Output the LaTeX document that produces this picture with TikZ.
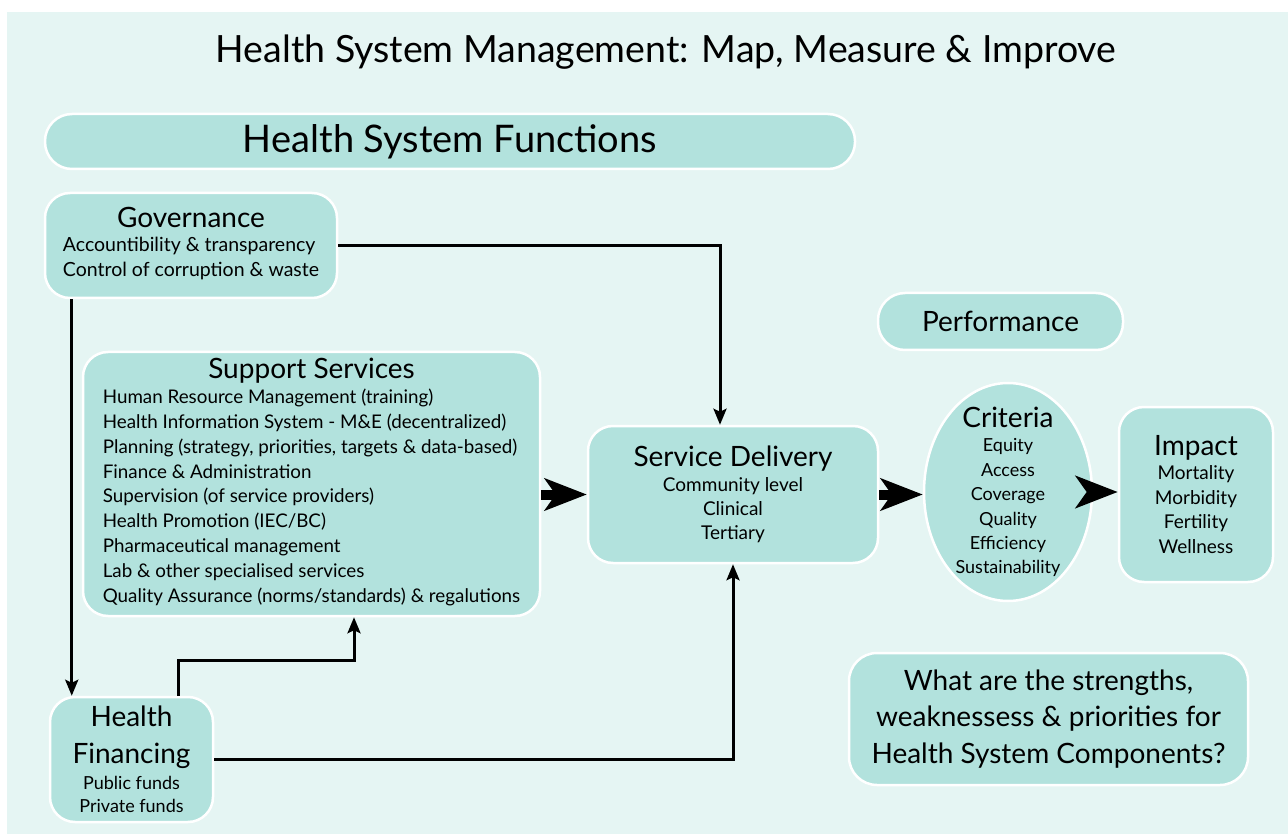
\documentclass[tikz,border=0pt]{standalone}
\usepackage{fontspec}
\setmainfont{Lato}
\usepackage{xcolor}
\usetikzlibrary{shapes.geometric,arrows.meta,positioning}
\definecolor{bgteal}{RGB}{229,245,243}
\definecolor{boxteal}{RGB}{178,226,221}
\newcommand\boxhead{\fontsize{28}{30}\selectfont}
\tikzset{blk/.style={draw=white,line width=2.5pt,fill=boxteal,rounded corners=25pt,align=center,inner sep=0pt,font=\fontsize{19.5}{24.5}\selectfont},
  pill/.style={blk,rounded corners=27pt},
  oval/.style={ellipse,draw=white,line width=2.5pt,fill=boxteal,inner sep=0pt},
  conn/.style={line width=3pt,-{Stealth[length=16pt,width=13pt,inset=3pt]}},
  fat/.style={line width=10pt,-{Stealth[length=42pt,width=32pt,inset=11pt]}}}

\begin{document}
\begin{tikzpicture}[x=1pt,y=-1pt]
    \useasboundingbox (0,0) rectangle (1288,834);
    \fill[bgteal] (7,12) rectangle (1288,834);

    \node[anchor=base,font=\fontsize{37.5}{42}\selectfont] (ttl) at (666,63) {Health System Management: Map, Measure \& Improve};
    \node[pill,minimum width=810pt,minimum height=55pt,font=\fontsize{38}{40}\selectfont] (hsf) at (450,141.5) {Health System Functions};

    % functions
    \node[blk,minimum width=292pt,minimum height=105pt] (gov) at (191,245.5) {\begin{tabular}{@{}l@{}}\multicolumn{1}{@{}c@{}}{\boxhead Governance}\\ Accountibility \& transparency\\ Control of corruption \& waste\end{tabular}};
    \node[blk,minimum width=457pt,minimum height=264pt,font=\fontsize{18.8}{24.8}\selectfont] (sup) at (311.5,484) {\begin{tabular}{@{}l@{}}\multicolumn{1}{@{}c@{}}{\boxhead Support Services}\\
        Human Resource Management (training)\\
        Health Information System - M\&E (decentralized)\\
        Planning (strategy, priorities, targets \& data-based)\\
        Finance \& Administration\\
        Supervision (of service providers)\\
        Health Promotion (IEC/BC)\\
        Pharmaceutical management\\
        Lab \& other specialised services\\
        Quality Assurance (norms/standards) \& regalutions\end{tabular}};
    \node[blk,minimum width=163pt,minimum height=125pt,font=\fontsize{18}{23}\selectfont] (fin) at (131.5,759.5) {{\boxhead Health}\\[14pt]{\boxhead Financing}\\[2.5pt]Public funds\\Private funds};
    \node[blk,minimum width=290pt,minimum height=137pt,font=\fontsize{19}{24}\selectfont] (sd) at (733,494.5) {{\boxhead Service Delivery}\\[1.5pt]Community level\\Clinical\\Tertiary};

    % performance
    \node[pill,minimum width=245pt,minimum height=57pt,font=\boxhead] (perf) at (1000.5,321.5) {Performance};
    \node[oval,minimum width=168pt,minimum height=218pt] (crit) at (1008,492) {};
    \node[align=center,font=\fontsize{18}{24.4}\selectfont] (critx) at (crit) {{\boxhead Criteria}\\Equity\\Access\\Coverage\\Quality\\Efficiency\\Sustainability};
    \node[blk,minimum width=154pt,minimum height=175pt,font=\fontsize{19}{24.5}\selectfont] (imp) at (1196,494.5) {{\boxhead Impact}\\Mortality\\Morbidity\\Fertility\\Wellness};
    \node[blk,minimum width=399pt,minimum height=132pt,rounded corners=28pt,font=\fontsize{28}{36.5}\selectfont] (ask) at (1048.5,719) {What are the strengths,\\weaknessess \& priorities for\\Health System Components?};

    \draw[conn] ([xshift=28pt]gov.south west) -- ([xshift=23pt]fin.north west);
    \draw[conn] (gov.east) -| ([xshift=-13pt]sd.north);
    \draw[conn] ([xshift=46.5pt]fin.north) -- ++(0,-35) -| ([xshift=42.5pt]sup.south);
    \draw[conn] (fin.east) -| (sd.south);

    \draw[fat] (sup.east |- sd.west) -- (sd.west);
    \draw[fat] (sd.east) -- (sd.east -| crit.west);
    \draw[fat] (crit.east) -- (crit.east -| imp.west);
\end{tikzpicture}
\end{document}
